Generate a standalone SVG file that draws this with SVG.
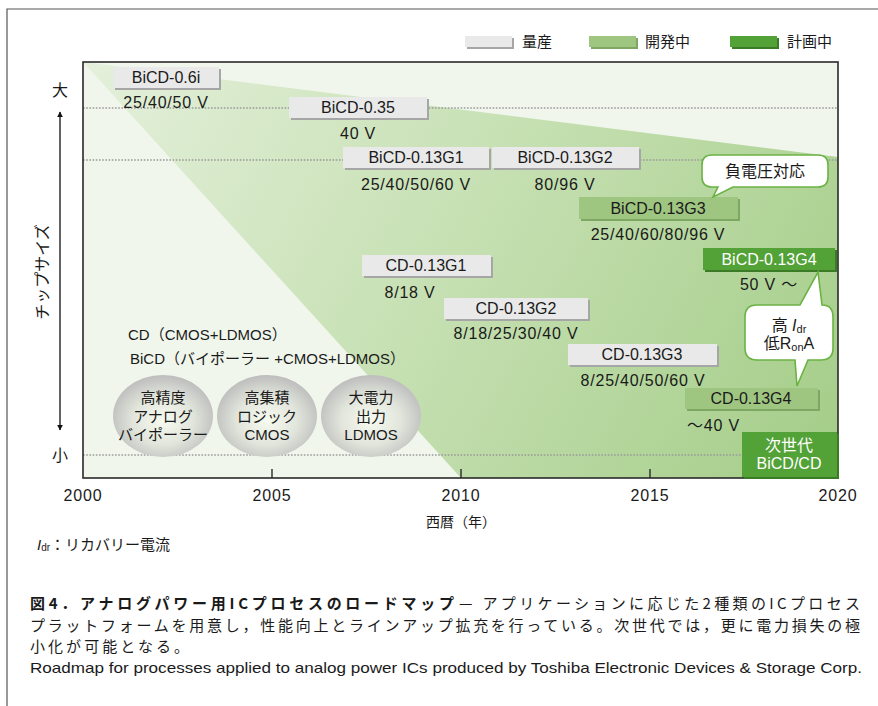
<svg xmlns="http://www.w3.org/2000/svg" width="878" height="706" viewBox="0 0 878 706">
<style>
text{font-family:"Liberation Sans","Noto Sans CJK JP",sans-serif;fill:#1a1a1a}
.bx{font-size:16px;text-anchor:middle}
.lbl{font-size:16px;text-anchor:middle;letter-spacing:0.8px}
.w{fill:#ffffff}
.gray{fill:#e9e9e9}
.grayS{fill:#a6a6a6}
.dev{fill:#9fc681}
.devS{fill:#7ea764}
.plan{fill:#53a237}
.planS{fill:#3b7b26}
.dot{stroke:#9a9a9a;stroke-width:1.6;stroke-dasharray:1.6 1.6;fill:none}
.call{fill:#ffffff;stroke:#6bb244;stroke-width:1.6}
.ball{fill:url(#ball)}
.ell{font-size:15px;text-anchor:middle}
.yr{font-size:16px;text-anchor:middle;letter-spacing:0.8px}
.cap{font-family:"Noto Sans CJK JP",sans-serif;font-size:15px}
</style>
<defs>
<linearGradient id="wedge" x1="83" y1="62" x2="838" y2="478" gradientUnits="userSpaceOnUse">
<stop offset="0" stop-color="#e4f0db"/>
<stop offset="0.45" stop-color="#c8e1b5"/>
<stop offset="1" stop-color="#a4cd88"/>
</linearGradient>
<radialGradient id="ball" cx="0.5" cy="0.55" r="0.55">
<stop offset="0" stop-color="#f6faef"/>
<stop offset="0.55" stop-color="#e1e5db"/>
<stop offset="1" stop-color="#bdbdbd"/>
</radialGradient>
<marker id="ah" viewBox="0 0 10 10" refX="9" refY="5" markerWidth="6" markerHeight="6" orient="auto-start-reverse" markerUnits="userSpaceOnUse">
<path d="M0,0 L10,5 L0,10 Z" fill="#111"/>
</marker>
</defs>

<rect width="878" height="706" fill="#ffffff"/>
<!-- outer frame -->
<path d="M7,706 V9 H878" fill="none" stroke="#555" stroke-width="1.2"/>

<!-- legend -->
<g id="legend">
<rect x="467" y="38" width="47" height="11" class="grayS"/>
<rect x="465" y="36" width="47" height="11" class="gray"/>
<text x="522" y="47" style="font-size:15px">量産</text>
<rect x="591" y="38" width="47" height="11" class="devS"/>
<rect x="589" y="36" width="47" height="11" class="dev"/>
<text x="645" y="47" style="font-size:15px">開発中</text>
<rect x="732" y="38" width="47" height="11" class="planS"/>
<rect x="730" y="36" width="47" height="11" class="plan"/>
<text x="787" y="47" style="font-size:15px">計画中</text>
</g>

<!-- plot background -->
<g id="plot">
<rect x="83" y="62" width="755" height="416" fill="#f0f6ec"/>
<polygon points="83,62 838,157 838,478 461,478" fill="url(#wedge)"/>
<line x1="83" y1="108" x2="838" y2="108" class="dot"/>
<line x1="83" y1="160" x2="838" y2="160" class="dot"/>
<line x1="83" y1="455" x2="838" y2="455" class="dot"/>
<rect x="83" y="62" width="755" height="416" fill="none" stroke="#2a2a2a" stroke-width="1.6"/>
<g stroke="#2a2a2a" stroke-width="1.4">
<line x1="272" y1="478" x2="272" y2="469"/>
<line x1="461" y1="478" x2="461" y2="469"/>
<line x1="650" y1="478" x2="650" y2="469"/>
</g>
</g>

<!-- axes labels -->
<g id="axis-x">
<text x="83" y="501" class="yr">2000</text>
<text x="272" y="501" class="yr">2005</text>
<text x="461" y="501" class="yr">2010</text>
<text x="650" y="501" class="yr">2015</text>
<text x="838" y="501" class="yr">2020</text>
<text x="461" y="527" style="font-size:14px;text-anchor:middle">西暦（年）</text>
</g>
<g id="axis-y">
<text x="60" y="96" style="font-size:16px;text-anchor:middle">大</text>
<text x="60" y="461" style="font-size:16px;text-anchor:middle">小</text>
<text transform="translate(48,272) rotate(-90)" style="font-size:16px;text-anchor:middle">チップサイズ</text>
</g>

<g id="connectors">
<line x1="60" y1="430" x2="60" y2="112" stroke="#111" stroke-width="1.3" marker-start="url(#ah)" marker-end="url(#ah)"/>
</g>

<!-- gray (mass production) boxes -->
<g id="bicd06i">
<rect x="115" y="69" width="106" height="21" class="grayS"/>
<rect x="113" y="67" width="106" height="21" class="gray"/>
<text x="166" y="83" class="bx">BiCD-0.6i</text>
<text x="166" y="108" class="lbl">25/40/50 V</text>
</g>
<g id="bicd035">
<rect x="291" y="99" width="138" height="21" class="grayS"/>
<rect x="289" y="97" width="138" height="21" class="gray"/>
<text x="358" y="113" class="bx">BiCD-0.35</text>
<text x="358" y="139" class="lbl">40 V</text>
</g>
<g id="bicd013g1">
<rect x="345" y="149" width="146" height="21" class="grayS"/>
<rect x="343" y="147" width="146" height="21" class="gray"/>
<text x="416" y="163" class="bx">BiCD-0.13G1</text>
<text x="416" y="190" class="lbl">25/40/50/60 V</text>
</g>
<g id="bicd013g2">
<rect x="494" y="149" width="147" height="21" class="grayS"/>
<rect x="492" y="147" width="147" height="21" class="gray"/>
<text x="565" y="163" class="bx">BiCD-0.13G2</text>
<text x="565" y="190" class="lbl">80/96 V</text>
</g>
<g id="cd013g1">
<rect x="364" y="257" width="129" height="21" class="grayS"/>
<rect x="362" y="255" width="129" height="21" class="gray"/>
<text x="426" y="271" class="bx">CD-0.13G1</text>
<text x="410" y="298" class="lbl">8/18 V</text>
</g>
<g id="cd013g2">
<rect x="446" y="300" width="144" height="21" class="grayS"/>
<rect x="444" y="298" width="144" height="21" class="gray"/>
<text x="516" y="314" class="bx">CD-0.13G2</text>
<text x="516" y="339" class="lbl">8/18/25/30/40 V</text>
</g>
<g id="cd013g3">
<rect x="570" y="346" width="149" height="21" class="grayS"/>
<rect x="568" y="344" width="149" height="21" class="gray"/>
<text x="642" y="360" class="bx">CD-0.13G3</text>
<text x="643" y="386" class="lbl">8/25/40/50/60 V</text>
</g>

<!-- development boxes -->
<g id="bicd013g3">
<rect x="581" y="199" width="159" height="22" class="devS"/>
<rect x="579" y="197" width="159" height="22" class="dev"/>
<text x="658" y="213.5" class="bx">BiCD-0.13G3</text>
<text x="658" y="240" class="lbl">25/40/60/80/96 V</text>
</g>
<g id="cd013g4">
<rect x="687" y="390" width="133" height="21" class="devS"/>
<rect x="685" y="388" width="133" height="21" class="dev"/>
<text x="751" y="404" class="bx">CD-0.13G4</text>
<text x="687" y="431" style="font-size:16px;letter-spacing:0.8px">～40 V</text>
</g>

<!-- planned boxes -->
<g id="bicd013g4">
<rect x="705" y="250" width="132" height="22" class="planS"/>
<rect x="703" y="248" width="132" height="22" class="plan"/>
<text x="769" y="264.5" class="bx w">BiCD-0.13G4</text>
<text x="769" y="290" class="lbl">50 V ～</text>
</g>
<g id="next-gen">
<rect x="744" y="434" width="95" height="45" class="planS"/>
<rect x="742" y="432" width="95" height="45" class="plan"/>
<text x="789" y="451" class="bx w">次世代</text>
<text x="789" y="469" class="bx w">BiCD/CD</text>
</g>

<!-- callouts -->
<g id="callout-neg">
<path d="M712,155 H818 Q828,155 828,165 V177 Q828,187 818,187 H733 L713,197 L718,187 H712 Q702,187 702,177 V165 Q702,155 712,155 Z" class="call"/>
<text x="765" y="177" style="font-size:16px;text-anchor:middle">負電圧対応</text>
</g>
<g id="callout-idr">
<path d="M757,305 H800 L818,272 L822,305 Q833,305 833,317 V348 Q833,360 821,360 H808 L797,386 L795,360 H757 Q745,360 745,348 V317 Q745,305 757,305 Z" class="call"/>
<text x="789" y="331" style="font-size:16px;text-anchor:middle">高 <tspan style="font-style:italic">I</tspan><tspan style="font-size:11px" dy="2">dr</tspan></text>
<text x="789" y="349" style="font-size:16px;text-anchor:middle">低R<tspan style="font-size:11px" dy="2">on</tspan><tspan dy="-2">A</tspan></text>
</g>

<!-- technology labels -->
<g id="tech-labels">
<text x="128" y="340" style="font-size:15px">CD（CMOS+LDMOS）</text>
<text x="130" y="364" style="font-size:15px">BiCD（バイポーラー +CMOS+LDMOS）</text>
</g>
<g id="ball-analog">
<ellipse cx="163" cy="416" rx="50" ry="41" class="ball"/>
<text x="163" y="402.5" class="ell">高精度</text>
<text x="163" y="421.5" class="ell">アナログ</text>
<text x="163" y="440" class="ell">バイポーラー</text>
</g>
<g id="ball-logic">
<ellipse cx="267" cy="416" rx="50" ry="41" class="ball"/>
<text x="267" y="402.5" class="ell">高集積</text>
<text x="267" y="421.5" class="ell">ロジック</text>
<text x="267" y="440" class="ell">CMOS</text>
</g>
<g id="ball-power">
<ellipse cx="371" cy="416" rx="50" ry="41" class="ball"/>
<text x="371" y="402.5" class="ell">大電力</text>
<text x="371" y="421.5" class="ell">出力</text>
<text x="371" y="440" class="ell">LDMOS</text>
</g>

<!-- note -->
<text x="37" y="550" style="font-size:15px"><tspan style="font-style:italic">I</tspan><tspan style="font-size:10px" dy="1">dr</tspan><tspan dy="-1">：リカバリー電流</tspan></text>

<!-- caption -->
<g id="caption">
<text x="30" y="609" class="cap" style="font-weight:bold" textLength="424" lengthAdjust="spacing">図4．アナログパワー用ICプロセスのロードマップ</text>
<text x="459" y="609" class="cap" textLength="401" lengthAdjust="spacing">— アプリケーションに応じた2種類のICプロセス</text>
<text x="30" y="631" class="cap" textLength="830" lengthAdjust="spacing">プラットフォームを用意し，性能向上とラインアップ拡充を行っている。次世代では，更に電力損失の極</text>
<text x="30" y="652" class="cap" textLength="159" lengthAdjust="spacing">小化が可能となる。</text>
<text x="30" y="673" style="font-size:15px" textLength="832" lengthAdjust="spacingAndGlyphs">Roadmap for processes applied to analog power ICs produced by Toshiba Electronic Devices &amp; Storage Corp.</text>
</g>
</svg>
